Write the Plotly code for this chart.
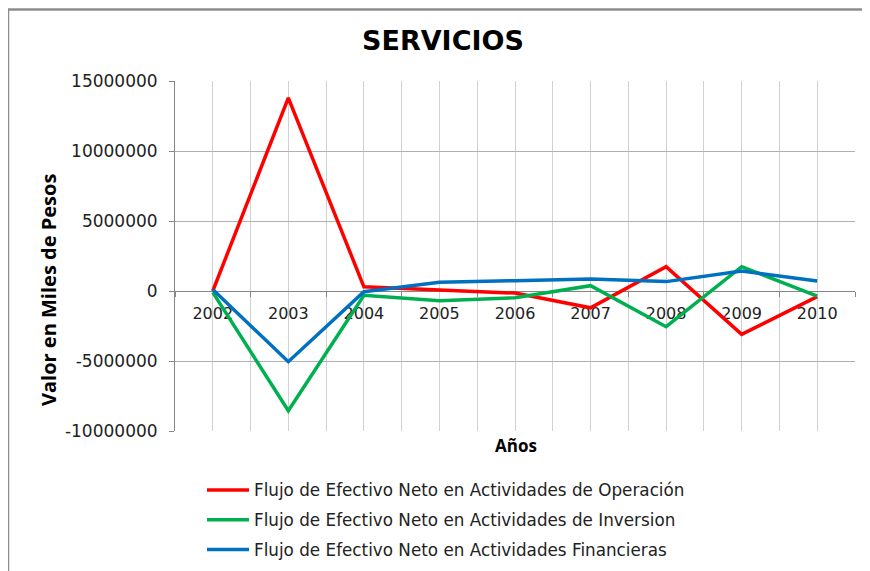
import plotly.graph_objects as go

years = ["2002", "2003", "2004", "2005", "2006", "2007", "2008", "2009", "2010"]
operacion = [0.0, 13800000, 300000, 100000, -150000, -1200000, 1740000, -3100000, -400000]
inversion = [-100000, -8550000, -300000, -700000, -480000, 380000, -2550000, 1740000, -360000]
financieras = [100000, -5050000, -50000, 620000, 740000, 860000, 670000, 1430000, 710000]

y_tick_vals = [-10000000, -5000000, 0, 5000000, 10000000, 15000000]
y_tick_text = ["-10000000", "-5000000", "0", "5000000", "10000000", "15000000"]

series_names = [
    "Flujo de Efectivo Neto en Actividades de Operación",
    "Flujo de Efectivo Neto en Actividades de Inversion",
    "Flujo de Efectivo Neto en Actividades Financieras",
]
series_values = [operacion, inversion, financieras]
series_colors = ["#ff0000", "#00b050", "#0070c0"]

y_min, y_max = -10000000, 15000000
xpos = list(range(len(years)))

fig = go.Figure()
for name, vals, col in zip(series_names, series_values, series_colors):
    fig.add_trace(go.Scatter(
        x=xpos, y=vals, mode="lines", name=name, legendgroup=name,
        line=dict(color=col, width=3.5),
    ))

# page body has an 8px margin: build the figure in page coords shifted by OFF
OFF = 8
W, H = 870, 571
ml, mr, mt, mb = 175 - OFF, 15 + OFF, 81 - OFF, 140 + OFF
pw = W - ml - mr
ph = H - mt - mb
zero_frac = (0 - y_min) / (y_max - y_min)

def px_x(p):
    # p in reference (window) pixels
    return (p - OFF - ml) / pw

def px_y(p):
    return (H - mb - (p - OFF)) / ph

fig.update_layout(
    width=W, height=H,
    margin=dict(l=ml, r=mr, t=mt, b=mb, autoexpand=False),
    paper_bgcolor="white", plot_bgcolor="white",
    title=dict(text="<b>SERVICIOS</b>", x=(443 - OFF) / W, xref="container", xanchor="center",
               y=1 - (41 - OFF) / H, yref="container", yanchor="middle",
               font=dict(family="DejaVu Sans", size=27, color="black")),
    xaxis=dict(
        range=[-0.5, len(years) - 0.5],
        tickvals=xpos, ticktext=years,
        anchor="free", position=zero_frac, automargin=False,
        showline=True, linecolor="#868686", linewidth=1,
        ticks="", showgrid=True, gridcolor="#d0d0d0", gridwidth=1,
        zeroline=False, layer="below traces",
        tickfont=dict(family="DejaVu Sans", size=16, color="#222222"),
        ticklabelstandoff=8,
        minor=dict(tickvals=[i - 0.5 for i in range(len(years) + 1)],
                   ticks="outside", ticklen=5, tickcolor="#868686",
                   showgrid=True, gridcolor="#d0d0d0", gridwidth=1),
    ),
    yaxis=dict(
        range=[y_min, y_max], tickvals=y_tick_vals, ticktext=y_tick_text,
        automargin=False,
        showline=True, linecolor="#868686", linewidth=1,
        ticks="outside", ticklen=5, tickcolor="#868686",
        showgrid=True, gridcolor="#b0b0b0", gridwidth=1,
        zeroline=False,
        tickfont=dict(family="DejaVu Sans", size=17, color="#222222"),
        ticklabelstandoff=8,
    ),
    showlegend=True,
    legend=dict(
        x=px_x(202), y=px_y(472.5), xanchor="left", yanchor="top",
        orientation="v", traceorder="grouped", tracegroupgap=5,
        itemwidth=42,
        font=dict(family="DejaVu Sans", size=16.8, color="#222222"),
        bgcolor="rgba(0,0,0,0)",
    ),
    annotations=[
        dict(text="<b>Años</b>", x=px_x(516), xref="paper", y=px_y(445), yref="paper",
             xanchor="center", yanchor="middle", showarrow=False,
             font=dict(family="Open Sans", size=17, color="black")),
        dict(text="<b>Valor en Miles de Pesos</b>", x=px_x(48), xref="paper",
             y=px_y(290), yref="paper", textangle=-90,
             xanchor="center", yanchor="middle", showarrow=False,
             font=dict(family="Open Sans", size=20, color="black")),
    ],
    shapes=[
        dict(type="line", xref="paper", yref="paper",
             x0=px_x(8), x1=px_x(880), y0=px_y(9.5), y1=px_y(9.5),
             line=dict(color="#8c8c8c", width=2.5)),
        dict(type="line", xref="paper", yref="paper",
             x0=px_x(8), x1=px_x(8), y0=px_y(9.5), y1=px_y(590),
             line=dict(color="#8c8c8c", width=2.5)),
    ],
)

fig.write_html("out.html")
